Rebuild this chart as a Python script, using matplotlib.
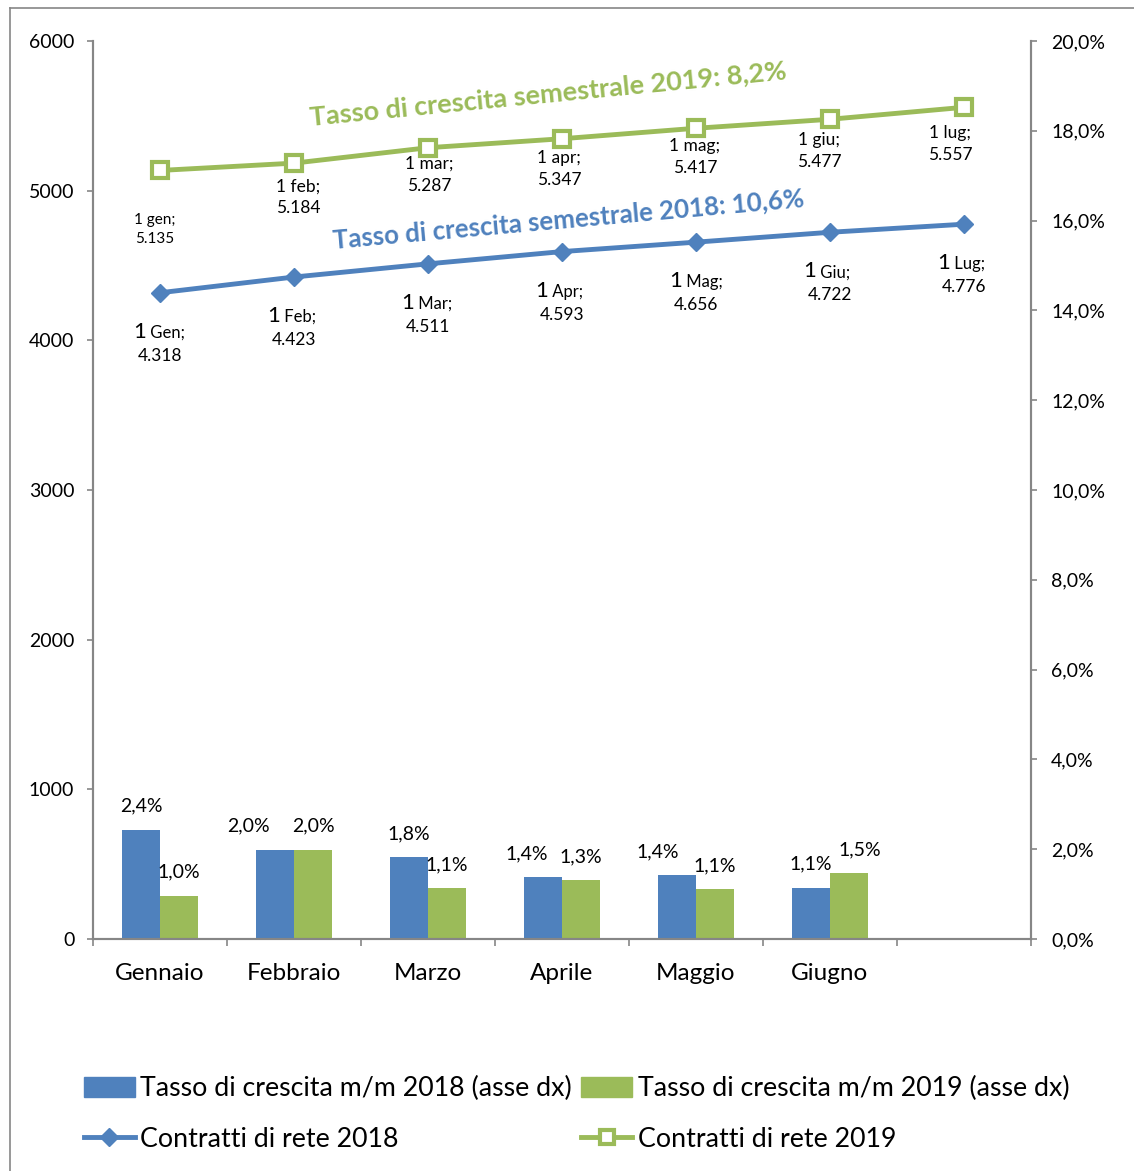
import numpy as np
import matplotlib.pyplot as plt
from matplotlib.lines import Line2D
from matplotlib.patches import Patch

plt.rcParams['font.family'] = ['Lato', 'DejaVu Sans']

# data
months = ["Gennaio", "Febbraio", "Marzo", "Aprile", "Maggio", "Giugno", ""]
growth_2018 = [2.43, 1.99, 1.82, 1.37, 1.42, 1.14]   # % m/m (right axis)
growth_2019 = [0.96, 1.99, 1.13, 1.31, 1.11, 1.46]
contr_2018 = [4318, 4423, 4511, 4593, 4656, 4722, 4776]
contr_2019 = [5135, 5184, 5287, 5347, 5417, 5477, 5557]
lab_2018 = ["Gen", "Feb", "Mar", "Apr", "Mag", "Giu", "Lug"]
lab_2019 = ["gen", "feb", "mar", "apr", "mag", "giu", "lug"]

BLUE = '#4F81BD'
GREEN = '#9BBB59'
GREY = '#868686'

W, H = 1134, 1171
fig = plt.figure(figsize=(W / 100, H / 100), dpi=100)
ax = fig.add_axes([93 / W, 1 - 939 / H, (1031 - 93) / W, (939 - 41) / H])
ax2 = ax.twinx()
ax.set_zorder(2)
ax.patch.set_visible(False)

x = np.arange(len(months))
bw = 0.284

def pct(v):
    return ("%.1f%%" % v).replace('.', ',')

# bars on right axis
ax2.bar(x[:6] - bw / 2, growth_2018, bw, color=BLUE)
ax2.bar(x[:6] + bw / 2, growth_2019, bw, color=GREEN)
ax2.set_ylim(0, 20)
ax2.set_yticks(np.arange(0, 21, 2))
ax2.set_yticklabels([pct(v) for v in np.arange(0, 21, 2)])

# label offsets (px) for bar labels: x shift
dx18 = [0, -27, 0, -16, -19, 0]
dx19 = [0, 0, 0, 0, 0, 11]
for i in range(6):
    ax2.annotate(pct(growth_2018[i]), (x[i] - bw / 2, growth_2018[i]),
                 xytext=(dx18[i] * 0.72, 17), textcoords='offset points',
                 ha='center', va='center', fontsize=14)
    ax2.annotate(pct(growth_2019[i]), (x[i] + bw / 2, growth_2019[i]),
                 xytext=(dx19[i] * 0.72, 17), textcoords='offset points',
                 ha='center', va='center', fontsize=14)

# lines on left axis
ax.plot(x, contr_2018, color=BLUE, lw=3.5, marker='D', ms=9.5, zorder=3)
ax.plot(x, contr_2019, color=GREEN, lw=3.5, marker='s', ms=12, mfc='white',
        mec=GREEN, mew=3, zorder=3)
ax.set_ylim(0, 6000)
ax.set_yticks(np.arange(0, 6001, 1000))
ax.set_xlim(-0.5, 6.5)

for i in range(7):
    ax.annotate("1", (x[i], contr_2018[i]), xytext=(-14 * 0.72, -45 * 0.72),
                textcoords='offset points', ha='right', va='baseline', fontsize=16)
    ax.annotate(" " + lab_2018[i] + ";", (x[i], contr_2018[i]), xytext=(-14 * 0.72, -45 * 0.72),
                textcoords='offset points', ha='left', va='baseline', fontsize=12)
    ax.annotate("%.3f" % (contr_2018[i] / 1000), (x[i], contr_2018[i]), xytext=(0, -63 * 0.72),
                textcoords='offset points', ha='center', va='center', fontsize=12.5)

dy19 = [48, 23, 16, 19, 18, 21, 26]
dx19l = [-5, 4, 1, -3, -1, -11, -14]
for i in range(7):
    fs = 11 if i == 0 else 12.5
    ax.annotate("1 %s;\n%s" % (lab_2019[i], "%.3f" % (contr_2019[i] / 1000)),
                (x[i], contr_2019[i]), xytext=(dx19l[i] * 0.72, -(dy19[i] + 11) * 0.72),
                textcoords='offset points', ha='center', va='center', fontsize=fs,
                linespacing=1.45)

ax.text(2.896, 5650, "Tasso di crescita semestrale 2019: 8,2%", color=GREEN, fontsize=19.5,
        fontweight='bold', rotation=5.6, rotation_mode='anchor', ha='center', va='center')
ax.text(3.045, 4810, "Tasso di crescita semestrale 2018: 10,6%", color=BLUE, fontsize=18.6,
        fontweight='bold', rotation=5.1, rotation_mode='anchor', ha='center', va='center')

# axes styling
for a in (ax, ax2):
    for s in a.spines.values():
        s.set_color(GREY)
        s.set_linewidth(1.5)
    a.spines['top'].set_visible(False)
ax.tick_params(axis='y', length=4.5, width=1.2, color=GREY, labelsize=14, pad=9)
ax2.tick_params(axis='y', length=4.5, width=1.2, color=GREY, labelsize=14, pad=10)
ax.set_xticks(x)
ax.set_xticklabels(months, fontsize=17.5)
ax.set_xticks(np.arange(-0.5, 7, 1), minor=True)
ax.tick_params(axis='x', which='major', length=0, pad=17)
ax.tick_params(axis='x', which='minor', length=5, width=1.2, color=GREY)

# outer frame
fig.add_artist(Line2D([9.5 / W, 1], [1 - 7.5 / H, 1 - 7.5 / H], color=GREY, lw=1.2))
fig.add_artist(Line2D([9.5 / W, 9.5 / W], [0, 1 - 7.5 / H], color=GREY, lw=1.2))

handles = [
    Patch(color=BLUE),
    Line2D([], [], color=BLUE, lw=3.5, marker='D', ms=9.5),
    Patch(color=GREEN),
    Line2D([], [], color=GREEN, lw=3.5, marker='s', ms=10, mfc='white', mec=GREEN, mew=3),
]
labels = ["Tasso di crescita m/m 2018 (asse dx)", "Contratti di rete 2018",
          "Tasso di crescita m/m 2019 (asse dx)", "Contratti di rete 2019"]
fig.legend(handles, labels, ncol=2, loc='upper left', bbox_to_anchor=(84 / W, 1 - 1076 / H),
           frameon=False, fontsize=19.3, borderpad=0, borderaxespad=0, handlelength=1.9,
           handleheight=0.75, handletextpad=0.2, columnspacing=0.35, labelspacing=0.95)

fig.savefig("out.png", dpi=100)
